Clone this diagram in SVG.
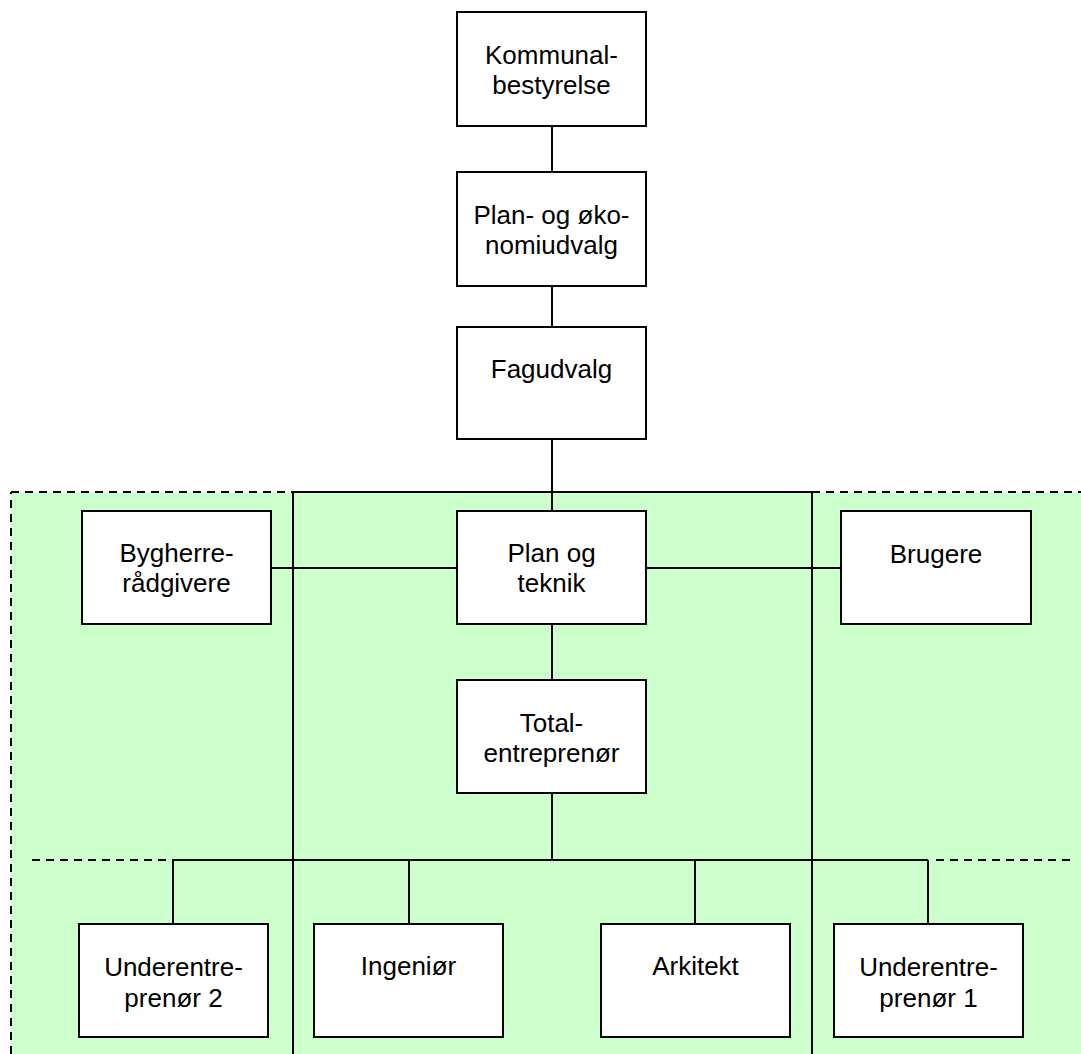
<svg xmlns="http://www.w3.org/2000/svg" width="1081" height="1054" viewBox="0 0 1081 1054">
<style>
.box{fill:#ffffff;stroke:#000000;stroke-width:2}
.ln{stroke:#000000;stroke-width:2;fill:none}
.dash{stroke:#000000;stroke-width:2;fill:none;stroke-dasharray:8 6}
text{font-family:"Liberation Sans",Arial,sans-serif;font-size:26px;fill:#000000;text-anchor:middle}
</style>
<rect id="zone" x="11" y="492" width="1070" height="562" fill="#ccffcc"/>
<g id="zone-border">
<line class="dash" x1="11" y1="1054" x2="11" y2="492"/>
<line class="dash" x1="11" y1="492" x2="293" y2="492"/>
<line class="dash" x1="812" y1="492" x2="1081" y2="492"/>
<line class="dash" x1="32" y1="860" x2="173" y2="860"/>
<line class="dash" x1="936" y1="860" x2="1074" y2="860"/>
</g>
<g id="connectors">
<line class="ln" x1="552" y1="126" x2="552" y2="172"/>
<line class="ln" x1="552" y1="286" x2="552" y2="327"/>
<line class="ln" x1="552" y1="439" x2="552" y2="511"/>
<line class="ln" x1="293" y1="492" x2="812" y2="492"/>
<line class="ln" x1="293" y1="492" x2="293" y2="1054"/>
<line class="ln" x1="812" y1="492" x2="812" y2="1054"/>
<line class="ln" x1="271" y1="568" x2="457" y2="568"/>
<line class="ln" x1="646" y1="568" x2="841" y2="568"/>
<line class="ln" x1="552" y1="624" x2="552" y2="680"/>
<line class="ln" x1="552" y1="793" x2="552" y2="860"/>
<line class="ln" x1="173" y1="860" x2="928" y2="860"/>
<line class="ln" x1="173" y1="860" x2="173" y2="924"/>
<line class="ln" x1="409" y1="860" x2="409" y2="924"/>
<line class="ln" x1="695" y1="860" x2="695" y2="924"/>
<line class="ln" x1="928" y1="860" x2="928" y2="924"/>
</g>
<g id="kommunalbestyrelse">
<rect class="box" x="457" y="12" width="189" height="114"/>
<text x="551.5" y="64">Kommunal-</text>
<text x="551.5" y="94">bestyrelse</text>
</g>
<g id="plan-oekonomiudvalg">
<rect class="box" x="457" y="172" width="189" height="114"/>
<text x="551.5" y="224">Plan- og øko-</text>
<text x="551.5" y="254">nomiudvalg</text>
</g>
<g id="fagudvalg">
<rect class="box" x="457" y="327" width="189" height="112"/>
<text x="551.5" y="378">Fagudvalg</text>
</g>
<g id="bygherraadgivere">
<rect class="box" x="82" y="511" width="189" height="113"/>
<text x="176.5" y="562">Bygherre-</text>
<text x="176.5" y="592">rådgivere</text>
</g>
<g id="plan-og-teknik">
<rect class="box" x="457" y="511" width="189" height="113"/>
<text x="551.5" y="562">Plan og</text>
<text x="551.5" y="592">teknik</text>
</g>
<g id="brugere">
<rect class="box" x="841" y="511" width="190" height="113"/>
<text x="936" y="563">Brugere</text>
</g>
<g id="totalentreprenoer">
<rect class="box" x="457" y="680" width="189" height="113"/>
<text x="551.5" y="732">Total-</text>
<text x="551.5" y="762">entreprenør</text>
</g>
<g id="underentreprenoer2">
<rect class="box" x="79" y="924" width="189" height="113"/>
<text x="173.5" y="976">Underentre-</text>
<text x="173.5" y="1007">prenør 2</text>
</g>
<g id="ingenioer">
<rect class="box" x="314" y="924" width="189" height="113"/>
<text x="408.5" y="975">Ingeniør</text>
</g>
<g id="arkitekt">
<rect class="box" x="601" y="924" width="189" height="113"/>
<text x="695.5" y="975">Arkitekt</text>
</g>
<g id="underentreprenoer1">
<rect class="box" x="834" y="924" width="189" height="113"/>
<text x="928.5" y="976">Underentre-</text>
<text x="928.5" y="1007">prenør 1</text>
</g>
</svg>
